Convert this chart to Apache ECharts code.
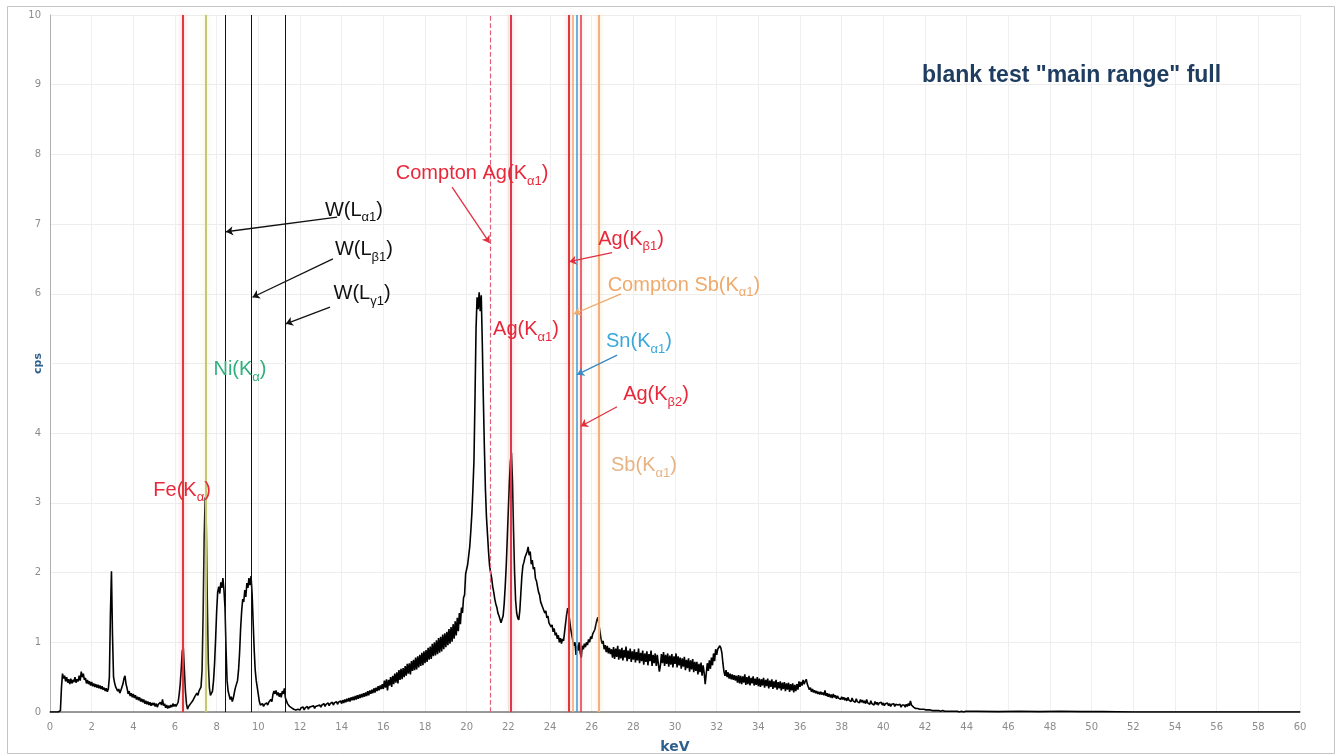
<!DOCTYPE html>
<html>
<head>
<meta charset="utf-8">
<title>blank test "main range" full</title>
<script src="https://cdn.jsdelivr.net/npm/echarts@6/dist/echarts.min.js"></script>
<style>
  html, body { margin: 0; padding: 0; background: #ffffff; }
  #chart { width: 1340px; height: 756px; }
</style>
</head>
<body>
<div id="chart"></div>
<script>
// XRF spectrum, counts per second sampled every 0.05 keV starting at 0 keV
const spectrumStartKeV = 0;
const spectrumStepKeV = 0.05;
const spectrumCps = [
  // 0 keV
  0,0,0,0,0,0,0,0,0,0,0.02,0.35,0.55,0.48,0.52,0.44,0.50,0.42,0.47,0.40,
  // 1 keV
  0.48,0.41,0.46,0.43,0.50,0.42,0.47,0.44,0.52,0.45,0.58,0.50,0.55,0.46,0.49,0.41,0.46,0.40,0.44,0.38,
  // 2 keV
  0.43,0.37,0.41,0.36,0.40,0.35,0.39,0.34,0.38,0.33,0.37,0.32,0.35,0.30,0.34,0.29,0.33,0.50,1.40,2.02,
  // 3 keV
  1.10,0.50,0.42,0.36,0.38,0.30,0.33,0.27,0.31,0.30,0.40,0.48,0.52,0.40,0.34,0.26,0.30,0.23,0.27,0.21,
  // 4 keV
  0.26,0.20,0.24,0.18,0.22,0.17,0.21,0.15,0.19,0.14,0.18,0.12,0.16,0.11,0.15,0.10,0.14,0.09,0.13,0.10,
  // 5 keV
  0.13,0.08,0.12,0.07,0.11,0.09,0.14,0.10,0.18,0.09,0.12,0.06,0.10,0.05,0.09,0.06,0.10,0.07,0.12,0.08,
  // 6 keV
  0.11,0.08,0.10,0.14,0.25,0.40,0.62,0.88,0.92,0.60,0.30,0.12,0.04,0.08,0.06,0.12,0.10,0.16,0.15,0.22,
  // 7 keV
  0.20,0.27,0.24,0.30,0.28,0.36,0.60,1.40,2.50,3.08,2.70,1.60,0.70,0.35,0.24,0.22,0.30,0.45,0.70,1.05,
  // 8 keV
  1.45,1.72,1.80,1.70,1.86,1.78,1.92,1.75,1.50,0.90,0.45,0.30,0.24,0.18,0.22,0.15,0.20,0.28,0.35,0.40,
  // 9 keV
  0.45,0.60,0.85,1.20,1.45,1.62,1.58,1.75,1.65,1.85,1.78,1.92,1.82,1.95,1.70,1.30,0.90,0.60,0.45,0.35,
  // 10 keV
  0.25,0.15,0.10,0.09,0.12,0.08,0.11,0.09,0.13,0.10,0.14,0.12,0.18,0.15,0.25,0.30,0.26,0.31,0.24,0.28,
  // 11 keV
  0.22,0.27,0.21,0.30,0.26,0.34,0.20,0.18,0.12,0.13,0.08,0.09,0.06,0.07,0.04,0.06,0.03,0.05,0.04,0.06,
  // 12 keV
  0.03,0.06,0.04,0.07,0.03,0.06,0.05,0.08,0.04,0.07,0.05,0.08,0.06,0.09,0.05,0.08,0.06,0.09,0.07,0.10,
  // 13 keV
  0.07,0.10,0.08,0.12,0.08,0.11,0.09,0.13,0.09,0.12,0.10,0.14,0.10,0.13,0.11,0.15,0.11,0.14,0.12,0.16,
  // 14 keV
  0.12,0.17,0.13,0.18,0.14,0.19,0.15,0.20,0.15,0.21,0.17,0.22,0.17,0.23,0.18,0.24,0.19,0.25,0.20,0.26,
  // 15 keV
  0.21,0.27,0.22,0.28,0.23,0.30,0.24,0.31,0.26,0.32,0.27,0.34,0.28,0.35,0.30,0.37,0.31,0.38,0.33,0.40,
  // 16 keV
  0.33,0.45,0.35,0.47,0.31,0.46,0.38,0.50,0.36,0.52,0.40,0.55,0.42,0.57,0.41,0.60,0.46,0.62,0.47,0.63,
  // 17 keV
  0.50,0.66,0.52,0.69,0.55,0.70,0.54,0.73,0.59,0.75,0.60,0.78,0.61,0.80,0.64,0.82,0.66,0.85,0.67,0.87,
  // 18 keV
  0.70,0.89,0.72,0.92,0.75,0.94,0.76,0.98,0.80,1.00,0.81,1.03,0.83,1.06,0.85,1.08,0.87,1.11,0.90,1.13,
  // 19 keV
  0.93,1.15,0.96,1.19,0.98,1.22,1.01,1.26,1.05,1.30,1.10,1.35,1.16,1.42,1.26,1.50,1.42,1.64,1.68,1.98,
  // 20 keV
  2.00,2.12,2.25,2.38,2.60,2.85,3.20,3.60,4.50,5.50,5.95,5.78,6.02,5.75,5.98,5.30,4.50,3.80,3.20,2.80,
  // 21 keV
  2.55,2.30,2.10,2.00,1.92,1.80,1.72,1.62,1.55,1.50,1.42,1.38,1.33,1.28,1.30,1.38,1.55,1.80,2.10,2.50,
  // 22 keV
  2.90,3.30,3.60,3.72,3.30,2.60,2.00,1.60,1.42,1.35,1.32,1.45,1.70,1.95,2.10,2.15,2.22,2.20,2.30,2.37,
  // 23 keV
  2.25,2.30,2.12,2.18,2.05,2.08,1.92,1.88,1.80,1.72,1.68,1.58,1.60,1.50,1.52,1.42,1.45,1.35,1.38,1.28,
  // 24 keV
  1.30,1.22,1.25,1.15,1.20,1.10,1.14,1.05,1.10,1.00,1.06,0.98,1.05,1.02,1.15,1.28,1.40,1.49,1.42,1.30,
  // 25 keV
  1.18,1.10,1.02,0.95,1.00,0.82,0.95,0.88,1.00,0.85,0.78,0.95,0.90,0.98,0.93,1.00,0.96,1.04,1.00,1.08,
  // 26 keV
  1.05,1.12,1.10,1.18,1.25,1.32,1.36,1.25,1.15,1.05,0.98,1.02,0.90,0.96,0.86,0.95,0.84,0.92,0.83,0.90,
  // 27 keV
  0.78,0.93,0.76,0.91,0.79,0.95,0.75,0.90,0.77,0.92,0.74,0.89,0.78,0.94,0.73,0.88,0.76,0.91,0.72,0.87,
  // 28 keV
  0.75,0.90,0.71,0.86,0.74,0.91,0.70,0.85,0.73,0.88,0.68,0.84,0.72,0.87,0.67,0.83,0.73,0.88,0.66,0.82,
  // 29 keV
  0.70,0.84,0.66,0.82,0.69,0.58,0.67,0.83,0.70,0.86,0.66,0.82,0.69,0.84,0.65,0.81,0.68,0.83,0.64,0.80,
  // 30 keV
  0.69,0.84,0.64,0.80,0.67,0.78,0.62,0.77,0.65,0.79,0.60,0.75,0.63,0.77,0.58,0.74,0.61,0.76,0.57,0.72,
  // 31 keV
  0.59,0.72,0.54,0.69,0.57,0.71,0.52,0.67,0.56,0.40,0.55,0.70,0.59,0.74,0.62,0.78,0.67,0.84,0.73,0.90,
  // 32 keV
  0.82,0.90,0.88,0.95,0.92,0.85,0.70,0.58,0.52,0.60,0.50,0.57,0.48,0.55,0.47,0.54,0.46,0.53,0.45,0.52,
  // 33 keV
  0.42,0.53,0.41,0.52,0.40,0.51,0.42,0.54,0.39,0.50,0.40,0.52,0.38,0.49,0.41,0.51,0.38,0.48,0.39,0.50,
  // 34 keV
  0.37,0.48,0.36,0.47,0.38,0.49,0.35,0.46,0.37,0.48,0.34,0.45,0.36,0.47,0.33,0.44,0.35,0.46,0.32,0.43,
  // 35 keV
  0.34,0.44,0.31,0.42,0.33,0.43,0.30,0.41,0.32,0.42,0.29,0.40,0.31,0.41,0.28,0.39,0.30,0.40,0.32,0.44,
  // 36 keV
  0.36,0.43,0.38,0.46,0.40,0.44,0.47,0.40,0.36,0.32,0.35,0.29,0.33,0.28,0.31,0.27,0.30,0.26,0.29,0.25,
  // 37 keV
  0.29,0.25,0.28,0.24,0.31,0.23,0.27,0.22,0.26,0.21,0.25,0.20,0.26,0.21,0.24,0.19,0.23,0.20,0.22,0.18,
  // 38 keV
  0.22,0.18,0.21,0.17,0.20,0.16,0.21,0.17,0.19,0.15,0.20,0.16,0.18,0.14,0.19,0.15,0.17,0.13,0.18,0.14,
  // 39 keV
  0.17,0.13,0.16,0.12,0.18,0.13,0.15,0.11,0.16,0.12,0.14,0.10,0.15,0.11,0.14,0.10,0.13,0.12,0.14,0.10,
  // 40 keV
  0.13,0.09,0.12,0.10,0.13,0.09,0.12,0.08,0.11,0.09,0.12,0.08,0.11,0.09,0.10,0.08,0.11,0.07,0.10,0.08,
  // 41 keV
  0.10,0.07,0.11,0.08,0.12,0.09,0.16,0.10,0.08,0.07,0.08,0.05,0.07,0.05,0.06,0.04,0.06,0.04,0.05,0.04,
  // 42 keV
  0.05,0.03,0.05,0.03,0.04,0.03,0.04,0.02,0.04,0.02,0.03,0.02,0.03,0.02,0.03,0.01,0.03,0.02,0.02,0.01,
  // 43 keV
  0.02,0.01,0.02,0.01,0.02,0.01,0.02,0.01,0.01,0.01,0.02,0.01,0.01,0.00,0.01,0.01,0.01,0.00,0.01,0.01
];
// sparse tail of the spectrum above 44 keV
const tailKeV = [44.5, 45.5, 46.5, 47.5, 48.5, 49.5, 50.5, 52, 60];
const tailCps = [0.01, 0.005, 0.01, 0.005, 0.01, 0.005, 0.005, 0, 0];

// emission / scatter line energies (keV)
const lineNames  = ['Fe Kα', 'Ni Kα', 'W Lα1', 'W Lβ1', 'W Lγ1', 'Compton Ag Kα1', 'Ag Kα1', 'Ag Kβ1', 'Compton Sb Kα1', 'Sn Kα1', 'Ag Kβ2', 'Sb Kα1'];
const lineKeV    = [6.38, 7.47, 8.40, 9.67, 11.29, 21.15, 22.12, 24.90, 25.10, 25.27, 25.46, 26.36];
const lineColors = ['#e0383c', '#c4c678', '#111111', '#111111', '#111111', '#e0607a', '#e0384a', '#e0383c', '#f0a868', '#3a9ad4', '#e0383c', '#f2b07e'];
const lineWidths = [2, 2, 1, 1, 1, 1.2, 2, 2, 1.5, 1.5, 1.5, 2];
const lineDashes = ['solid', 'solid', 'solid', 'solid', 'solid', 'dashed', 'solid', 'solid', 'solid', 'solid', 'solid', 'solid'];
const lineGlow   = ['rgba(240,120,120,0.55)', 'rgba(230,230,150,0.7)', null, null, null, null, 'rgba(240,120,130,0.5)', 'rgba(240,120,120,0.5)', null, null, 'rgba(240,120,120,0.4)', 'rgba(245,190,140,0.6)'];

// annotation labels: rich-text, centre position in (keV, cps), colour
const labelTexts = [
  '{m|Fe(K}{s|α}{m|)}',
  '{m|Ni(K}{s|α}{m|)}',
  '{m|W(L}{s|α1}{m|)}',
  '{m|W(L}{s|β1}{m|)}',
  '{m|W(L}{s|γ1}{m|)}',
  '{m|Compton Ag(K}{s|α1}{m|)}',
  '{m|Ag(K}{s|β1}{m|)}',
  '{m|Compton Sb(K}{s|α1}{m|)}',
  '{m|Ag(K}{s|α1}{m|)}',
  '{m|Sn(K}{s|α1}{m|)}',
  '{m|Ag(K}{s|β2}{m|)}',
  '{m|Sb(K}{s|α1}{m|)}'
];
const labelKeV   = [6.34, 9.12, 14.59, 15.07, 14.98, 20.26, 27.89, 30.43, 22.85, 28.27, 29.09, 28.51];
const labelCps   = [3.21, 4.94, 7.23, 6.66, 6.03, 7.75, 6.81, 6.15, 5.51, 5.34, 4.58, 3.56];
const labelColors = ['#e8283a', '#2fb07c', '#111111', '#111111', '#111111', '#e8283a', '#e8283a', '#eeaa6c', '#e8283a', '#3aa8dc', '#e8283a', '#e6b484'];

// pointer arrows: from (keV, cps) to (keV, cps)
const arrowFromKeV = [13.78, 13.58, 13.44, 19.30, 26.98, 27.41, 27.22, 27.22];
const arrowFromCps = [7.10, 6.50, 5.81, 7.53, 6.59, 6.00, 5.12, 4.38];
const arrowToKeV   = [8.45, 9.72, 11.32, 21.10, 24.93, 25.14, 25.30, 25.48];
const arrowToCps   = [6.89, 5.95, 5.57, 6.73, 6.46, 5.71, 4.84, 4.10];
const arrowColors  = ['#111111', '#111111', '#111111', '#e03040', '#e03040', '#eea868', '#3a8ac4', '#e03040'];

const spectrum = spectrumCps.map((v, i) => [+(spectrumStartKeV + i * spectrumStepKeV).toFixed(2), v]);
tailKeV.forEach((k, i) => spectrum.push([k, tailCps[i]]));

const labelFont = 'Liberation Sans, Arial, sans-serif';

const markLines = lineKeV.map((k, i) => ({
  name: lineNames[i],
  xAxis: k,
  lineStyle: {
    color: lineColors[i],
    width: lineWidths[i],
    type: lineDashes[i],
    shadowColor: lineGlow[i] || 'rgba(0,0,0,0)',
    shadowBlur: lineGlow[i] ? 5 : 0
  }
}));
arrowFromKeV.forEach((k, i) => {
  markLines.push([
    {
      coord: [k, arrowFromCps[i]],
      symbol: 'none',
      lineStyle: { color: arrowColors[i], width: 1.3, type: 'solid', shadowBlur: 0, shadowColor: 'rgba(0,0,0,0)' }
    },
    { coord: [arrowToKeV[i], arrowToCps[i]], symbol: 'arrow', symbolSize: 7 }
  ]);
});

const markPoints = labelTexts.map((t, i) => ({
  coord: [labelKeV[i], labelCps[i]],
  symbol: 'circle',
  symbolSize: 1,
  itemStyle: { color: 'rgba(0,0,0,0)' },
  label: {
    show: true,
    position: 'inside',
    formatter: t,
    rich: {
      m: { fontSize: 20, color: labelColors[i], fontFamily: labelFont, lineHeight: 24, verticalAlign: 'bottom' },
      s: { fontSize: 13, color: labelColors[i], fontFamily: labelFont, lineHeight: 24, verticalAlign: 'bottom', padding: [0, 0, -4, 0] }
    }
  }
}));

const chart = echarts.init(document.getElementById('chart'), null, { renderer: 'canvas' });
chart.setOption({
  animation: false,
  backgroundColor: '#ffffff',
  title: {
    text: 'blank test "main range" full',
    left: 917,
    top: 59,
    textStyle: { fontSize: 23, fontWeight: 'bold', color: '#1f3d60', fontFamily: labelFont }
  },
  graphic: [{
    type: 'rect',
    shape: { x: 7.5, y: 6.5, width: 1327, height: 747 },
    style: { fill: 'none', stroke: '#c4c4c4', lineWidth: 1 },
    silent: true,
    z: -1
  }],
  grid: { left: 50, right: 40, top: 15, bottom: 44, containLabel: false, outerBoundsMode: 'none' },
  xAxis: {
    type: 'value',
    min: 0, max: 60, interval: 2,
    name: 'keV',
    nameLocation: 'middle',
    nameGap: 28,
    nameTextStyle: { color: '#2f5f8c', fontWeight: 'bold', fontSize: 14, fontFamily: 'DejaVu Sans' },
    axisLine: { show: true, lineStyle: { color: '#7a7a7a', width: 1.5 } },
    axisTick: { show: false },
    axisLabel: { color: '#8c8c8c', fontSize: 10, margin: 10, fontFamily: 'DejaVu Sans' },
    splitLine: { show: true, lineStyle: { color: '#efefef', width: 1 } }
  },
  yAxis: {
    type: 'value',
    min: 0, max: 10, interval: 1,
    name: 'cps',
    nameLocation: 'middle',
    nameGap: 6,
    nameMoveOverlap: false,
    nameTextStyle: { color: '#2f5f8c', fontWeight: 'bold', fontSize: 11, fontFamily: 'DejaVu Sans' },
    axisLine: { show: true, lineStyle: { color: '#b0b0b0', width: 1 } },
    axisTick: { show: false },
    axisLabel: {
      color: '#8c8c8c', fontSize: 10, margin: 9, fontFamily: 'DejaVu Sans',
      formatter: v => (v === 5 ? '' : String(v))
    },
    splitLine: { show: true, lineStyle: { color: '#ededed', width: 1 } }
  },
  series: [{
    name: 'spectrum',
    type: 'line',
    data: spectrum,
    showSymbol: false,
    symbol: 'none',
    lineStyle: { color: '#000000', width: 1.6 },
    z: 2,
    markLine: {
      silent: true,
      symbol: ['none', 'none'],
      label: { show: false },
      animation: false,
      data: markLines
    },
    markPoint: {
      silent: true,
      animation: false,
      data: markPoints
    }
  }]
});
</script>
</body>
</html>
